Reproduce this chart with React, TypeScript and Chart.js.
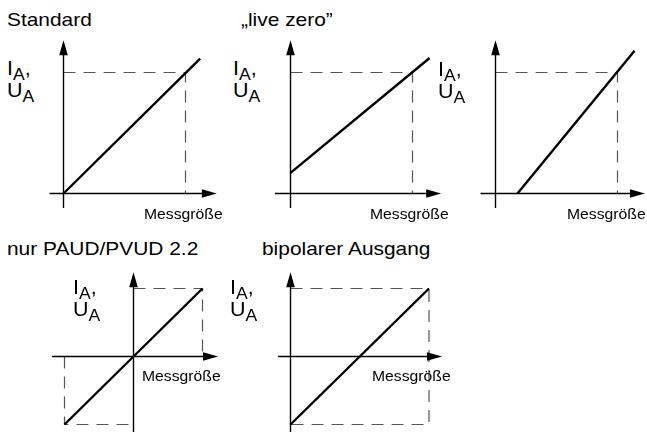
import React, { useEffect, useRef } from "react";
import { Chart, registerables } from "chart.js";
Chart.register(...registerables);

type Pt = [number, number];

// ---- data (input / output in units of full scale) ----
const standardLine: Pt[] = [[0, 0], [1.12, 1.115]];
const liveZeroLine: Pt[] = [[0, 0.17], [1.14, 1.12]];
const offsetLine: Pt[] = [[0.18, 0], [1.14, 1.18]];
const symmetricLine: Pt[] = [[-1, -1], [1, 1]];
const bipolarLine: Pt[] = [[0, -1], [1, 1]];

// dashed full-scale guides
const unipolarGuide: Pt[] = [[0, 1], [1, 1], [1, 0]];
const negativeGuide: Pt[] = [[-1, 0], [-1, -1], [0, -1]];
const bipolarGuide: Pt[] = [[0, 1], [1, 1], [1, -1], [0, -1]];

// axis extents [start, arrow tip]
const xAxisStandard = [-0.115, 1.257];
const xAxisLiveZero = [-0.128, 1.235];
const xAxisOffset = [-0.123, 1.225];
const yAxisUnipolar = [-0.12, 1.267];
const xAxisSymmetric = [-1.18, 1.225];
const xAxisBipolar = [-0.09, 1.094];
const yAxisBipolar = [-1.11, 1.24];

// texts
const titles = ["Standard", "\u201Elive zero\u201D", "nur PAUD/PVUD 2.2", "bipolarer Ausgang"];
const xAxisTitle = "Messgröße";
const yAxisSymbols = ["I", "U"];
const yAxisSubscript = "A";

// ---- layout ----
type Panel = {
  ox: number; oy: number; ux: number; uy: number;
  line: Pt[]; guides: Pt[][]; xAxis: number[]; yAxis: number[];
};

const panels: Panel[] = [
  { ox: 63.5, oy: 193.5, ux: 122, uy: 121, line: standardLine, guides: [unipolarGuide], xAxis: xAxisStandard, yAxis: yAxisUnipolar },
  { ox: 290.5, oy: 193.5, ux: 122, uy: 121, line: liveZeroLine, guides: [unipolarGuide], xAxis: xAxisLiveZero, yAxis: yAxisUnipolar },
  { ox: 495.5, oy: 193.5, ux: 122, uy: 121, line: offsetLine, guides: [unipolarGuide], xAxis: xAxisOffset, yAxis: yAxisUnipolar },
  { ox: 133.5, oy: 356.5, ux: 69, uy: 68, line: symmetricLine, guides: [unipolarGuide, negativeGuide], xAxis: xAxisSymmetric, yAxis: yAxisBipolar },
  { ox: 290.5, oy: 356.5, ux: 138.5, uy: 68, line: bipolarLine, guides: [bipolarGuide], xAxis: xAxisBipolar, yAxis: yAxisBipolar },
];

const titlePos = [
  { x: 7, base: 26.5 },
  { x: 241, base: 26.5 },
  { x: 7, base: 255 },
  { x: 262, base: 255 },
];
const xTitlePos = [
  { x: 144, base: 219.5 },
  { x: 370, base: 219.5 },
  { x: 567, base: 219.5 },
  { x: 142, base: 381.5 },
  { x: 372, base: 381.5 },
];
const yTitlePos = [
  { x: 7, base: 76 },
  { x: 233, base: 76 },
  { x: 438, base: 77 },
  { x: 73, base: 295 },
  { x: 230, base: 295 },
];

const FONT = '"Liberation Sans", Arial, Helvetica, sans-serif';
const PAD = 10;
const ARROW_LEN = 15;
const ARROW_HALF = 4.3;

const arrowPlugin = {
  id: "axisArrows",
  afterDatasetsDraw(chart: any) {
    const opts = chart.options.plugins.axisArrows;
    if (!opts) return;
    const { ctx, scales } = chart;
    const x0 = scales.x.getPixelForValue(0);
    const y0 = scales.y.getPixelForValue(0);
    const xt = scales.x.getPixelForValue(opts.xTip);
    const yt = scales.y.getPixelForValue(opts.yTip);
    ctx.save();
    ctx.fillStyle = "#000";
    ctx.beginPath();
    ctx.moveTo(xt, y0);
    ctx.lineTo(xt - ARROW_LEN, y0 - ARROW_HALF);
    ctx.lineTo(xt - ARROW_LEN, y0 + ARROW_HALF);
    ctx.closePath();
    ctx.fill();
    ctx.beginPath();
    ctx.moveTo(x0, yt);
    ctx.lineTo(x0 - ARROW_HALF, yt + ARROW_LEN);
    ctx.lineTo(x0 + ARROW_HALF, yt + ARROW_LEN);
    ctx.closePath();
    ctx.fill();
    ctx.restore();
  },
};

const toXY = (pts: Pt[]) => pts.map(([x, y]) => ({ x, y }));

function PanelChart({ p }: { p: Panel }) {
  const ref = useRef<HTMLCanvasElement>(null);
  const left = Math.floor(p.ox + p.xAxis[0] * p.ux - PAD);
  const right = Math.ceil(p.ox + p.xAxis[1] * p.ux + PAD);
  const top = Math.floor(p.oy - p.yAxis[1] * p.uy - PAD);
  const bottom = Math.ceil(p.oy - p.yAxis[0] * p.uy + PAD);
  const w = right - left;
  const h = bottom - top;

  useEffect(() => {
    if (!ref.current) return;
    const common = { showLine: true, pointRadius: 0, pointHoverRadius: 0, fill: false, clip: false as any, tension: 0 };
    const datasets: any[] = [
      { ...common, data: toXY(p.line), borderColor: "#000", borderWidth: 2.4, borderCapStyle: "butt" },
      { ...common, data: [{ x: p.xAxis[0], y: 0 }, { x: p.xAxis[1] - 5 / p.ux, y: 0 }], borderColor: "#000", borderWidth: 1.4 },
      { ...common, data: [{ x: 0, y: p.yAxis[0] }, { x: 0, y: p.yAxis[1] - 5 / p.uy }], borderColor: "#000", borderWidth: 1.4 },
      ...p.guides.map((g) => ({ ...common, data: toXY(g), borderColor: "#555", borderWidth: 1.2, borderDash: [12, 8] })),
    ];
    const chart = new Chart(ref.current, {
      type: "scatter",
      data: { datasets },
      options: {
        animation: false,
        responsive: false,
        maintainAspectRatio: false,
        devicePixelRatio: 1,
        events: [],
        layout: { padding: 0 },
        plugins: {
          legend: { display: false },
          tooltip: { enabled: false },
          title: { display: false },
          axisArrows: { xTip: p.xAxis[1], yTip: p.yAxis[1] },
        } as any,
        scales: {
          x: { type: "linear", display: false, min: (left - p.ox) / p.ux, max: (right - p.ox) / p.ux },
          y: { type: "linear", display: false, min: (p.oy - bottom) / p.uy, max: (p.oy - top) / p.uy },
        },
      },
      plugins: [arrowPlugin],
    });
    return () => chart.destroy();
  }, []);

  return (
    <canvas
      ref={ref}
      width={w}
      height={h}
      style={{ position: "absolute", left, top, width: w, height: h }}
    />
  );
}

function Txt({ x, base, size, sx = 1.1, children }: { x: number; base: number; size: number; sx?: number; children: React.ReactNode }) {
  return (
    <div
      style={{
        position: "absolute",
        left: x,
        top: base - 0.8465 * size,
        fontSize: size,
        lineHeight: `${size}px`,
        fontFamily: FONT,
        whiteSpace: "nowrap",
        transform: `scaleX(${sx})`,
        transformOrigin: "0 0",
        color: "#000",
      }}
    >
      {children}
    </div>
  );
}

const Sub = ({ t }: { t: string }) => (
  <span style={{ fontSize: "0.82em", position: "relative", top: "0.3em" }}>{t}</span>
);

export default function App() {
  return (
    <div style={{ position: "absolute", left: 0, top: 0, width: 647, height: 433, overflow: "hidden", background: "#fff" }}>
      {panels.map((p, i) => (
        <PanelChart key={i} p={p} />
      ))}
      {titles.map((t, i) => (
        <Txt key={"t" + i} x={titlePos[i].x} base={titlePos[i].base} size={19}>{t}</Txt>
      ))}
      {xTitlePos.map((pos, i) => (
        <Txt key={"x" + i} x={pos.x} base={pos.base} size={14.3}>{xAxisTitle}</Txt>
      ))}
      {yTitlePos.map((pos, i) => (
        <React.Fragment key={"y" + i}>
          <Txt x={pos.x} base={pos.base} size={19.5}>
            {yAxisSymbols[0]}
            <Sub t={yAxisSubscript} />,
          </Txt>
          <Txt x={pos.x} base={pos.base + 21.5} size={19.5}>
            {yAxisSymbols[1]}
            <Sub t={yAxisSubscript} />
          </Txt>
        </React.Fragment>
      ))}
    </div>
  );
}
